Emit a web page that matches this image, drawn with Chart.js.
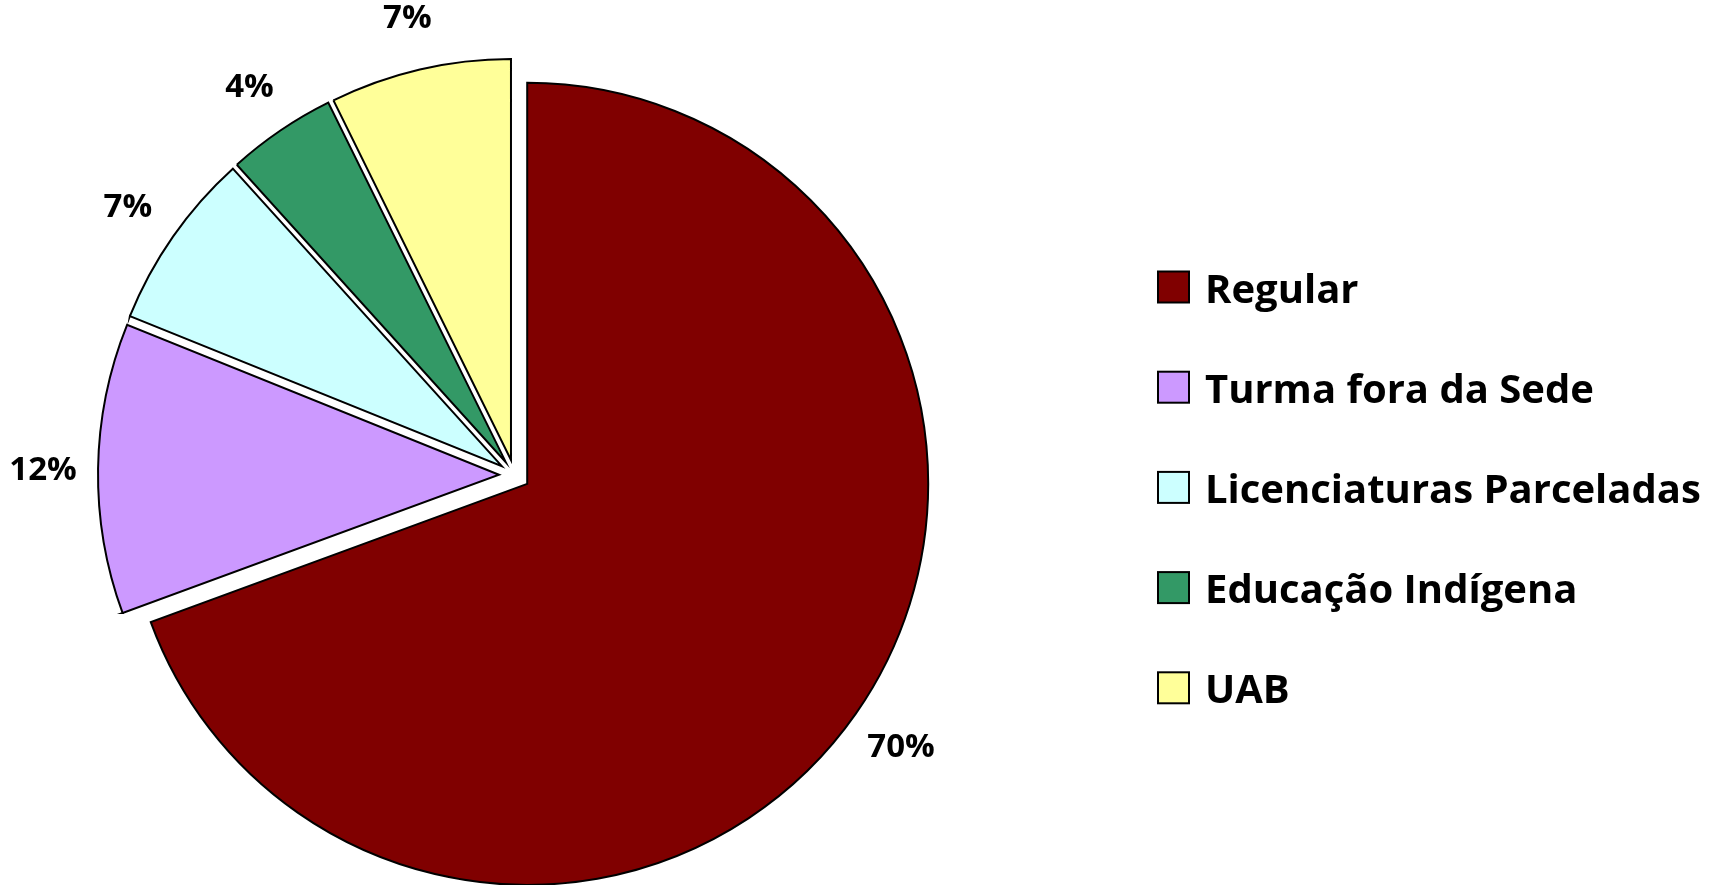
<!DOCTYPE html>
<html>
<head>
<meta charset="utf-8">
<script src="https://cdn.jsdelivr.net/npm/chart.js"></script>
<style>
  html, body { margin: 0; padding: 0; background: #fff; }
  #wrap { width: 1709px; height: 885px; }
</style>
</head>
<body>
<div id="wrap"><canvas id="pieChart" width="1709" height="885"></canvas></div>

<script>
	// Data
	var categories = ['Regular', 'Turma fora da Sede', 'Licenciaturas Parceladas', 'Educação Indígena', 'UAB'];
	var shares = [69.4, 11.7, 7.2, 4.4, 7.3];
	var shareLabels = ['70%', '12%', '7%', '4%', '7%'];
	var sliceColors = ['#800000', '#CC99FF', '#CCFFFF', '#339966', '#FFFF99'];

	var EXPLODE = 15.5;     // every slice pulled out by the same distance
	var PIE_RADIUS = 401;

	// Excel-style explode: plain shift of each slice along its middle angle
	var explodePlugin = {
		id: 'explode',
		afterDatasetsUpdate: function (chart) {
			chart.getDatasetMeta(0).data.forEach(function (arc) {
				var mid = (arc.startAngle + arc.endAngle) / 2;
				arc.x += Math.cos(mid) * EXPLODE;
				arc.y += Math.sin(mid) * EXPLODE;
			});
		}
	};

	// Percentage labels outside the slices
	var labelPlugin = {
		id: 'pctLabels',
		afterDatasetsDraw: function (chart) {
			var ctx = chart.ctx;
			ctx.save();
			ctx.font = 'bold 33px "Open Sans"';
			ctx.fillStyle = '#000';
			ctx.textAlign = 'center';
			ctx.textBaseline = 'alphabetic';
			chart.getDatasetMeta(0).data.forEach(function (arc, i) {
				var mid = (arc.startAngle + arc.endAngle) / 2;
				var r = arc.outerRadius + 55;
				var x = arc.x + Math.cos(mid) * r;
				var y = arc.y + Math.sin(mid) * r;
				ctx.fillText(shareLabels[i], x, y + 12);
			});
			ctx.restore();
		}
	};

	// Legend on the right
	var legendPlugin = {
		id: 'sideLegend',
		afterDraw: function (chart) {
			var ctx = chart.ctx;
			var boxX = 1158, box = 31, textX = 1205, firstY = 287, step = 100.2;
			ctx.save();
			ctx.font = 'bold 40px "Open Sans"';
			ctx.textAlign = 'left';
			ctx.textBaseline = 'alphabetic';
			categories.forEach(function (name, i) {
				var cy = firstY + i * step;
				ctx.fillStyle = sliceColors[i];
				ctx.fillRect(boxX, cy - box / 2, box, box);
				ctx.lineWidth = 2;
				ctx.strokeStyle = '#000';
				ctx.strokeRect(boxX, cy - box / 2, box, box);
				ctx.fillStyle = '#000';
				ctx.fillText(name, textX, cy + 15.5);
			});
			ctx.restore();
		}
	};

	var ctx = document.getElementById('pieChart').getContext('2d');
	new Chart(ctx, {
		type: 'pie',
		data: {
			labels: categories,
			datasets: [ {
				data: shares,
				backgroundColor: sliceColors,
				borderColor: '#000',
				borderWidth: 2,
				borderJoinStyle: 'miter'
			} ]
		},
		options: {
			responsive: false,
			animation: false,
			events: [],
			radius: PIE_RADIUS,
			layout: {
				padding: { left: 0, right: 680, top: 65, bottom: 0 }
			},
			plugins: {
				legend: { display: false },
				tooltip: { enabled: false }
			}
		},
		plugins: [ explodePlugin, labelPlugin, legendPlugin ]
	});
</script>
</body>
</html>
